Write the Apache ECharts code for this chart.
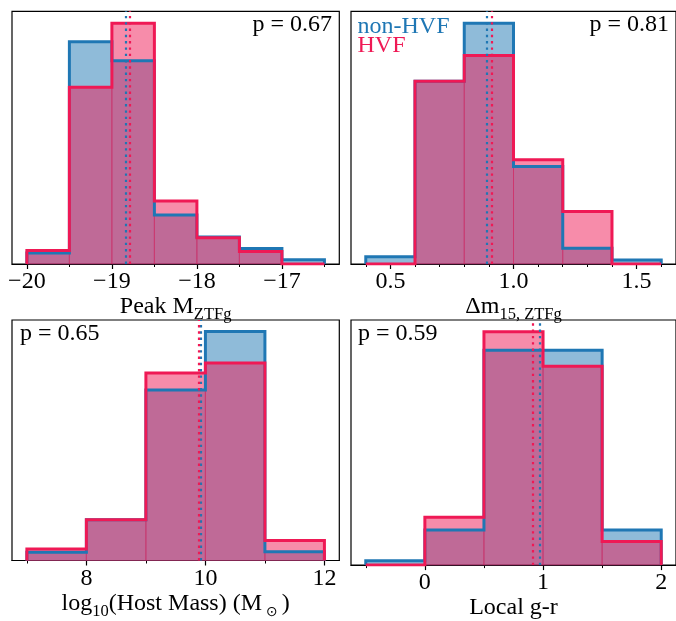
<!DOCTYPE html>
<html><head><meta charset="utf-8">
<script src="https://cdn.jsdelivr.net/npm/echarts@6/dist/echarts.min.js"></script>
<style>html,body{margin:0;padding:0;background:#fff}#c{width:676px;height:621px}</style>
</head><body><div id="c"></div>
<script>
// ---------- Panel 1: Peak M_ZTFg ----------
const peakEdges = [-20, -19.5, -19, -18.5, -18, -17.5, -17, -16.5];
const peakNonHVF = [0.041, 0.835, 0.763, 0.184, 0.101, 0.058, 0.016];
const peakHVF = [0.051, 0.664, 0.904, 0.237, 0.099, 0.047, 0.0];
const peakMedianNonHVF = -18.84;
const peakMedianHVF = -18.79;
const peakMajorTicks = [-20, -19, -18, -17];
const peakTickLabels = ['\u221220', '\u221219', '\u221218', '\u221217'];
const peakMinorTicks = [-19.5, -18.5, -17.5, -16.5];
const peakP = 'p = 0.67';

// ---------- Panel 2: Delta m15 ----------
const dm15Edges = [0.4, 0.6, 0.8, 1.0, 1.2, 1.4, 1.6];
const dm15NonHVF = [0.067, 1.668, 2.196, 0.890, 0.144, 0.037];
const dm15HVF = [0.0, 1.668, 1.903, 0.951, 0.479, 0.0];
const dm15MedianNonHVF = 0.889;
const dm15MedianHVF = 0.914;
const dm15MajorTicks = [0.5, 1.0, 1.5];
const dm15TickLabels = ['0.5', '1.0', '1.5'];
const dm15MinorTicks = [0.4, 0.6, 0.7, 0.8, 0.9, 1.1, 1.2, 1.3, 1.4, 1.6];
const dm15P = 'p = 0.81';

// ---------- Panel 3: host mass ----------
const massEdges = [7, 8, 9, 10, 11, 12];
const massNonHVF = [0.018, 0.089, 0.373, 0.501, 0.019];
const massHVF = [0.025, 0.089, 0.410, 0.432, 0.044];
const massMedianNonHVF = 9.93;
const massMedianHVF = 9.89;
const massMajorTicks = [8, 10, 12];
const massTickLabels = ['8', '10', '12'];
const massMinorTicks = [7, 9, 11];
const massP = 'p = 0.65';

// ---------- Panel 4: local g-r ----------
const grEdges = [-0.5, 0, 0.5, 1.0, 1.5, 2.0];
const grNonHVF = [0.017, 0.139, 0.853, 0.853, 0.139];
const grHVF = [0.0, 0.190, 0.927, 0.790, 0.094];
const grMedianNonHVF = 0.97;
const grMedianHVF = 0.905;
const grMajorTicks = [0, 1, 2];
const grTickLabels = ['0', '1', '2'];
const grMinorTicks = [-0.5, 0.5, 1.5];
const grP = 'p = 0.59';

const legendNames = ['non-HVF', 'HVF'];

// ---------- styling ----------
const BLUE = '#1f77b4';
const PINK = '#ef1955';
const BLUE_FILL = 'rgba(31,119,180,0.5)';
const PINK_FILL = 'rgba(239,25,85,0.5)';
const FONT = "'Liberation Serif','Times New Roman',serif";
const FS = 24;

const panels = [
  {edges: peakEdges, a: peakNonHVF, b: peakHVF, ma: peakMedianNonHVF, mb: peakMedianHVF,
   major: peakMajorTicks, labels: peakTickLabels, minor: peakMinorTicks,
   name: '{m|Peak M}{s|ZTFg}',
   grid: {left: 12, top: 11.3, width: 327.3, height: 252.7}},
  {edges: dm15Edges, a: dm15NonHVF, b: dm15HVF, ma: dm15MedianNonHVF, mb: dm15MedianHVF,
   major: dm15MajorTicks, labels: dm15TickLabels, minor: dm15MinorTicks,
   name: '{m|\u0394m}{s|15, ZTFg}',
   grid: {left: 351, top: 11.3, width: 326.3, height: 252.7}},
  {edges: massEdges, a: massNonHVF, b: massHVF, ma: massMedianNonHVF, mb: massMedianHVF,
   major: massMajorTicks, labels: massTickLabels, minor: massMinorTicks,
   name: '{m|log}{s|10}{m|(Host Mass) (M}{o|\u2299}{m|)}',
   grid: {left: 12, top: 320, width: 327.3, height: 252.7}},
  {edges: grEdges, a: grNonHVF, b: grHVF, ma: grMedianNonHVF, mb: grMedianHVF,
   major: grMajorTicks, labels: grTickLabels, minor: grMinorTicks,
   name: '{m|Local g-r}',
   grid: {left: 351, top: 320, width: 326.3, height: 252.7}}
];

function binData(edges, vals) {
  return vals.map((v, i) => [edges[i], edges[i + 1], v]);
}
function stepData(edges, vals) {
  const pts = [[edges[0], 0]];
  vals.forEach((v, i) => { pts.push([edges[i], v]); pts.push([edges[i + 1], v]); });
  pts.push([edges[edges.length - 1], 0]);
  return pts;
}
function fillRender(fill, stroke) {
  return function (params, api) {
    const p0 = api.coord([api.value(0), api.value(2)]);
    const p1 = api.coord([api.value(1), 0]);
    return {
      type: 'rect',
      shape: {x: p0[0], y: p0[1], width: p1[0] - p0[0], height: p1[1] - p0[1]},
      style: {fill: fill, stroke: stroke, lineWidth: 0.8}
    };
  };
}

const grids = [], xAxes = [], yAxes = [], series = [];
const richName = {
  m: {fontSize: FS, fontFamily: FONT, color: '#000', verticalAlign: 'top'},
  s: {fontSize: 16.5, fontFamily: FONT, color: '#000', verticalAlign: 'top', padding: [11.6, 0, 0, 0]},
  o: {fontSize: 14, fontFamily: "'DejaVu Sans',sans-serif", color: '#000', verticalAlign: 'top', padding: [14, 4, 0, 4]}
};

panels.forEach((p, k) => {
  const lo = p.edges[0], hi = p.edges[p.edges.length - 1];
  const margin = (hi - lo) * 0.05;
  const xmin = lo - margin, xmax = hi + margin;
  const ymax = Math.max(...p.a, ...p.b) * 1.05;
  grids.push(Object.assign({show: true, borderColor: '#000', borderWidth: 1.2, backgroundColor: 'transparent', containLabel: false}, p.grid));
  // main axis with major ticks + labels
  xAxes.push({
    type: 'value', gridIndex: k, min: xmin, max: xmax, position: 'bottom',
    axisLine: {show: true, onZero: false, lineStyle: {color: '#000', width: 1.2}},
    axisTick: {show: true, inside: false, length: 5, lineStyle: {color: '#000', width: 1.2}, customValues: p.major},
    axisLabel: {show: true, margin: 6, fontSize: FS, fontFamily: FONT, color: '#000',
      customValues: p.major,
      formatter: (v) => { const i = p.major.findIndex(t => Math.abs(t - v) < 1e-9); return i >= 0 ? p.labels[i] : ''; }},
    splitLine: {show: false},
    name: p.name, nameLocation: 'middle', nameGap: 23.3,
    nameTextStyle: {fontSize: FS, fontFamily: FONT, color: '#000', rich: richName}
  });
  // minor ticks axis
  xAxes.push({
    type: 'value', gridIndex: k, min: xmin, max: xmax, position: 'bottom',
    axisLine: {show: false},
    axisTick: {show: true, inside: false, length: 3, lineStyle: {color: '#000', width: 1}, customValues: p.minor},
    axisLabel: {show: false},
    splitLine: {show: false}
  });
  yAxes.push({type: 'value', gridIndex: k, min: 0, max: ymax, show: false});
  const xi = 2 * k;
  series.push({
    type: 'custom', xAxisIndex: xi, yAxisIndex: k, renderItem: fillRender(BLUE_FILL, 'rgba(31,119,180,0.35)'),
    encode: {x: [0, 1], y: 2}, data: binData(p.edges, p.a), silent: true, z: 2
  });
  series.push({
    type: 'custom', xAxisIndex: xi, yAxisIndex: k, renderItem: fillRender(PINK_FILL, 'rgba(239,25,85,0.45)'),
    encode: {x: [0, 1], y: 2}, data: binData(p.edges, p.b), silent: true, z: 2
  });
  series.push({
    type: 'line', xAxisIndex: xi, yAxisIndex: k, data: stepData(p.edges, p.a), showSymbol: false, symbol: 'none',
    lineStyle: {color: BLUE, width: 3, join: 'miter', cap: 'butt'}, silent: true, z: 3, clip: true
  });
  series.push({
    type: 'line', xAxisIndex: xi, yAxisIndex: k, data: stepData(p.edges, p.b), showSymbol: false, symbol: 'none',
    lineStyle: {color: PINK, width: 3, join: 'miter', cap: 'butt'}, silent: true, z: 3, clip: true,
    markLine: {
      silent: true, symbol: ['none', 'none'], label: {show: false}, animation: false, z: 5,
      data: [
        {xAxis: p.ma, lineStyle: {color: BLUE, width: 2.2, type: [2.4, 3.9], cap: 'butt'}},
        {xAxis: p.mb, lineStyle: {color: PINK, width: 2.2, type: [2.4, 3.9], cap: 'butt'}}
      ]
    }
  });
});

const txt = (x, y, text, align, color) => ({
  type: 'text', x: x, y: y, silent: true, z: 10,
  style: {text: text, fontSize: FS, fontFamily: FONT, fill: color || '#000', align: align, verticalAlign: 'middle'}
});

const option = {
  animation: false,
  backgroundColor: '#fff',
  grid: grids, xAxis: xAxes, yAxis: yAxes, series: series,
  graphic: [
    txt(332, 25, peakP, 'right'),
    txt(669, 25, dm15P, 'right'),
    txt(20, 333.5, massP, 'left'),
    txt(358, 333.5, grP, 'left'),
    txt(357.5, 27, legendNames[0], 'left', BLUE),
    txt(357.5, 45.5, legendNames[1], 'left', PINK)
  ]
};
const chart = echarts.init(document.getElementById('c'), null, {renderer: 'canvas'});
chart.setOption(option);
</script></body></html>
